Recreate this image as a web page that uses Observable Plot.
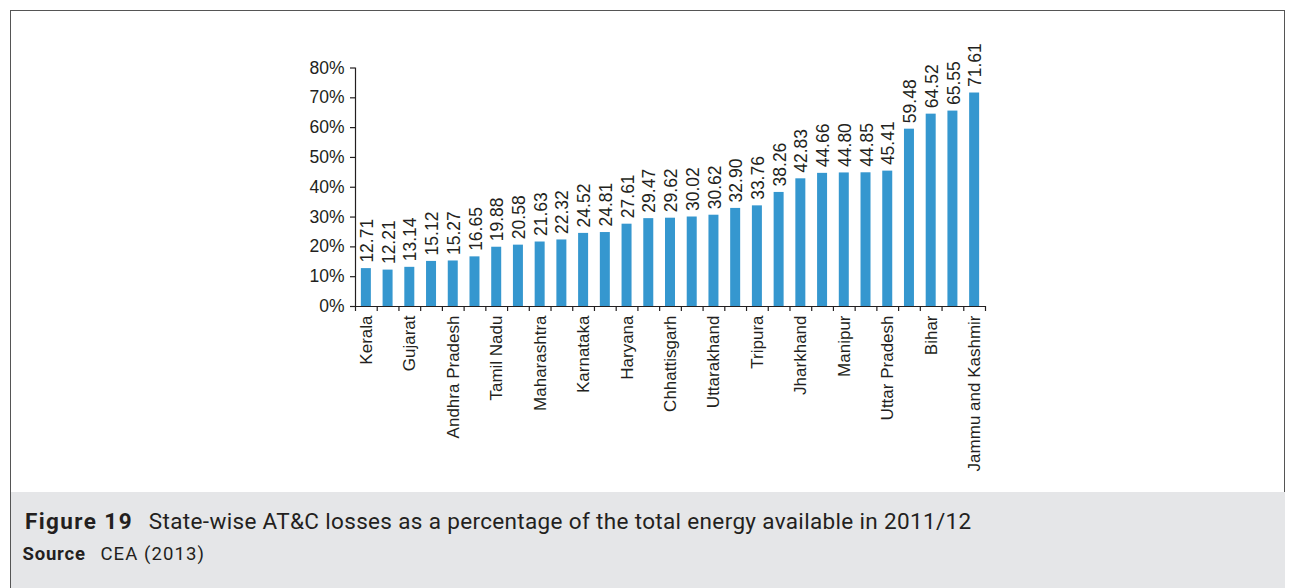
<!DOCTYPE html>
<html>
<head>
<meta charset="utf-8">
<script src="https://cdn.jsdelivr.net/npm/d3@7"></script>
<script src="https://cdn.jsdelivr.net/npm/@observablehq/plot@0.6"></script>
<style>
  html, body { margin: 0; padding: 0; background: #fff; }
  body { width: 1291px; height: 588px; position: relative; overflow: hidden; }
  #frame {
    position: absolute; left: 10px; top: 10px; width: 1275px; height: 640px;
    border: 1.5px solid #555; box-sizing: border-box;
  }
  #chart { position: absolute; left: 0; top: 0; }
  #caption {
    position: absolute; left: 11px; top: 492px; width: 1274px; height: 96px;
    background: #e5e6e8; font-family: Roboto, "Liberation Sans", sans-serif; color: #231f20;
  }
  #caption .title { position: absolute; left: 14px; top: 18px; line-height: 1; font-size: 22.5px; letter-spacing: 0.34px; white-space: nowrap; }
  #caption .title b { font-weight: 700; letter-spacing: 1.4px; margin-right: 10px; }
  #caption .source { position: absolute; left: 11.5px; top: 52.5px; line-height: 1; font-size: 18.5px; letter-spacing: 1.1px; white-space: nowrap; }
  #caption .source b { font-weight: 700; letter-spacing: 0.8px; margin-right: 9px; }
</style>
</head>
<body>
<div id="frame"></div>
<div id="chart"></div>
<div id="caption">
  <div class="title"><b>Figure 19</b> State-wise AT&amp;C losses as a percentage of the total energy available in 2011/12</div>
  <div class="source"><b>Source</b> CEA (2013)</div>
</div>
<script>
// States in ascending order of AT&C loss; every other state carries a visible label
const states = [
  "Kerala", "Himachal Pradesh", "Gujarat", "Punjab", "Andhra Pradesh", "Goa",
  "Tamil Nadu", "West Bengal", "Maharashtra", "Delhi", "Karnataka", "Puducherry",
  "Haryana", "Assam", "Chhattisgarh", "Sikkim", "Uttarakhand", "Odisha",
  "Tripura", "Rajasthan", "Jharkhand", "Meghalaya", "Manipur", "Madhya Pradesh",
  "Uttar Pradesh", "Mizoram", "Bihar", "Nagaland", "Jammu and Kashmir"
];
// AT&C losses, % of total energy available, 2011/12
const losses = [
  12.71, 12.21, 13.14, 15.12, 15.27, 16.65, 19.88, 20.58, 21.63, 22.32,
  24.52, 24.81, 27.61, 29.47, 29.62, 30.02, 30.62, 32.90, 33.76, 38.26,
  42.83, 44.66, 44.80, 44.85, 45.41, 59.48, 64.52, 65.55, 71.61
];
const labeledStates = states.filter((d, i) => i % 2 === 0);
const yTicks = [0, 10, 20, 30, 40, 50, 60, 70, 80];

const rows = states.map((state, i) => ({state, loss: losses[i]}));

const W = 1291, H = 492, ML = 355, MR = 306, MT = 67.5, MB = 186;
const step = (W - ML - MR) / states.length;
const blue = "#3597cf";
const ink = "#231f20";

const chart = Plot.plot({
  width: W,
  height: H,
  marginLeft: ML,
  marginRight: MR,
  marginTop: MT,
  marginBottom: MB,
  style: {fontFamily: "'Liberation Sans', Arial, sans-serif", fontSize: "17px", color: ink, background: "transparent"},
  x: {domain: states, paddingInner: 0.54, paddingOuter: 0.27, round: false, label: null, axis: null},
  y: {domain: [0, 80], label: null, axis: null},
  marks: [
    Plot.barY(rows, {x: "state", y: "loss", fill: blue}),
    Plot.text(rows, {
      x: "state", y: "loss", text: d => d.loss.toFixed(2),
      rotate: -90, textAnchor: "start", lineAnchor: "middle",
      dy: -6, dx: 1, fontSize: 17.5, fill: ink
    }),
    // axis lines
    Plot.ruleY([0], {stroke: ink, strokeWidth: 1.2}),
    Plot.ruleX([states[0]], {dx: -step / 2, stroke: ink, strokeWidth: 1.2}),
    // category boundary ticks
    Plot.axisX(states, {tickSize: 5, dx: step / 2, fill: "none", stroke: ink, strokeWidth: 1.2}),
    Plot.axisX([states[0]], {tickSize: 5, dx: -step / 2, fill: "none", stroke: ink, strokeWidth: 1.2}),
    // category labels
    Plot.axisX(labeledStates, {tickSize: 0, tickPadding: 9, tickRotate: -90, fontSize: 17, fill: ink}),
    Plot.axisY(yTicks, {
      tickSize: 5, tickPadding: 6, tickFormat: d => d + "%",
      fontSize: 17.5, fill: ink, stroke: ink, strokeWidth: 1.2
    })
  ]
});
document.getElementById("chart").appendChild(chart);
</script>
</body>
</html>
